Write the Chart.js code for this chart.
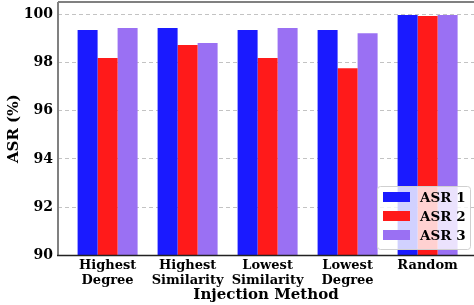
<!DOCTYPE html>
<html>
<head>
<meta charset="utf-8">
<script src="https://cdn.jsdelivr.net/npm/chart.js@4.4.1/dist/chart.umd.min.js"></script>
<style>
  html, body { margin: 0; padding: 0; background: #fff; overflow: hidden; }
  #wrap { width: 474px; height: 305px; position: relative; }
</style>
</head>
<body>
<div id="wrap"><canvas id="chart"></canvas></div>
<script>
// data
const categories = [['Highest', 'Degree'], ['Highest', 'Similarity'], ['Lowest', 'Similarity'], ['Lowest', 'Degree'], ['Random']];
const asr1 = [99.34, 99.42, 99.34, 99.34, 99.96];
const asr2 = [98.18, 98.72, 98.18, 97.76, 99.92];
const asr3 = [99.42, 98.80, 99.42, 99.21, 99.96];
const yTicks = [90, 92, 94, 96, 98, 100];

const COLORS = { a1: '#1a1aff', a2: '#ff1a1a', a3: '#9a70f3' };
const FONT = 'DejaVu Serif';

const toPts = arr => arr.map((v, i) => ({ x: i, y: v }));

// spines + legend box (matplotlib style)
const frame = {
    id: 'frame',
    afterDraw(chart) {
        const { ctx, chartArea: a } = chart;
        ctx.save();
        ctx.strokeStyle = '#808080';
        ctx.lineWidth = 2;
        ctx.beginPath();
        ctx.moveTo(a.left, a.top); ctx.lineTo(chart.width, a.top);
        ctx.moveTo(a.left, a.top); ctx.lineTo(a.left, a.bottom);
        ctx.stroke();
        ctx.strokeStyle = '#222';
        ctx.lineWidth = 1.5;
        ctx.beginPath();
        ctx.moveTo(a.left - 1, a.bottom); ctx.lineTo(chart.width, a.bottom);
        ctx.stroke();

        // legend
        const bx = 377, by = 186, bw = 93, bh = 63;
        ctx.fillStyle = 'rgba(255,255,255,0.8)';
        ctx.strokeStyle = '#d0d0d0';
        ctx.lineWidth = 1;
        ctx.beginPath();
        ctx.roundRect(bx + 0.5, by + 0.5, bw, bh, 3);
        ctx.fill();
        ctx.stroke();
        ctx.font = 'bold 13.5px "' + FONT + '"';
        ctx.textBaseline = 'middle';
        chart.data.datasets.forEach((ds, i) => {
            const cy = 197 + i * 19;
            ctx.fillStyle = ds.backgroundColor;
            ctx.fillRect(383, cy - 5, 27, 10);
            ctx.fillStyle = '#000';
            ctx.fillText(ds.label, 420, cy + 1);
        });
        ctx.restore();
    }
};

new Chart(document.getElementById('chart'), {
    type: 'bar',
    data: {
        datasets: [
            { label: 'ASR 1', data: toPts(asr1), backgroundColor: COLORS.a1 },
            { label: 'ASR 2', data: toPts(asr2), backgroundColor: COLORS.a2 },
            { label: 'ASR 3', data: toPts(asr3), backgroundColor: COLORS.a3 },
        ],
    },
    options: {
        responsive: true,
        maintainAspectRatio: false,
        animation: false,
        layout: { padding: { top: 2, right: 0, left: 0, bottom: 0 } },
        plugins: { legend: { display: false }, tooltip: { enabled: false } },
        datasets: { bar: { categoryPercentage: 0.75, barPercentage: 1.0, borderWidth: 0 } },
        scales: {
            x: {
                type: 'linear',
                min: -0.62,
                max: 4.58,
                offset: false,
                grid: { display: false, drawTicks: false },
                border: { display: false },
                afterBuildTicks: s => { s.ticks = categories.map((c, i) => ({ value: i })); },
                afterFit: s => { s.height = 49.5; s.paddingLeft = 0; s.paddingRight = 0; },
                ticks: {
                    autoSkip: false,
                    maxRotation: 0,
                    padding: 3,
                    color: '#000',
                    font: { family: FONT, size: 13, weight: 'bold', lineHeight: 1.15 },
                    callback: v => categories[Math.round(v)],
                },
                title: {
                    display: true,
                    text: 'Injection Method',
                    color: '#000',
                    padding: { top: 0, bottom: 1 },
                    font: { family: FONT, size: 15, weight: 'bold', lineHeight: 1.2 },
                },
            },
            y: {
                min: 90,
                max: 100.5,
                z: 1,
                afterBuildTicks: s => { s.ticks = yTicks.map(v => ({ value: v })); },
                afterFit: s => { s.width = 58; s.paddingTop = 0; s.paddingBottom = 0; },
                grid: { color: 'rgba(180,180,180,0.8)', lineWidth: 1, drawTicks: false },
                border: { display: false, dash: [4, 3] },
                ticks: {
                    padding: 5,
                    color: '#000',
                    font: { family: FONT, size: 14, weight: 'bold' },
                },
                title: {
                    display: true,
                    text: 'ASR (%)',
                    color: '#000',
                    padding: { top: 5, bottom: 0 },
                    font: { family: FONT, size: 15, weight: 'bold', lineHeight: 1.2 },
                },
            },
        },
    },
    plugins: [frame],
});
</script>
</body>
</html>
